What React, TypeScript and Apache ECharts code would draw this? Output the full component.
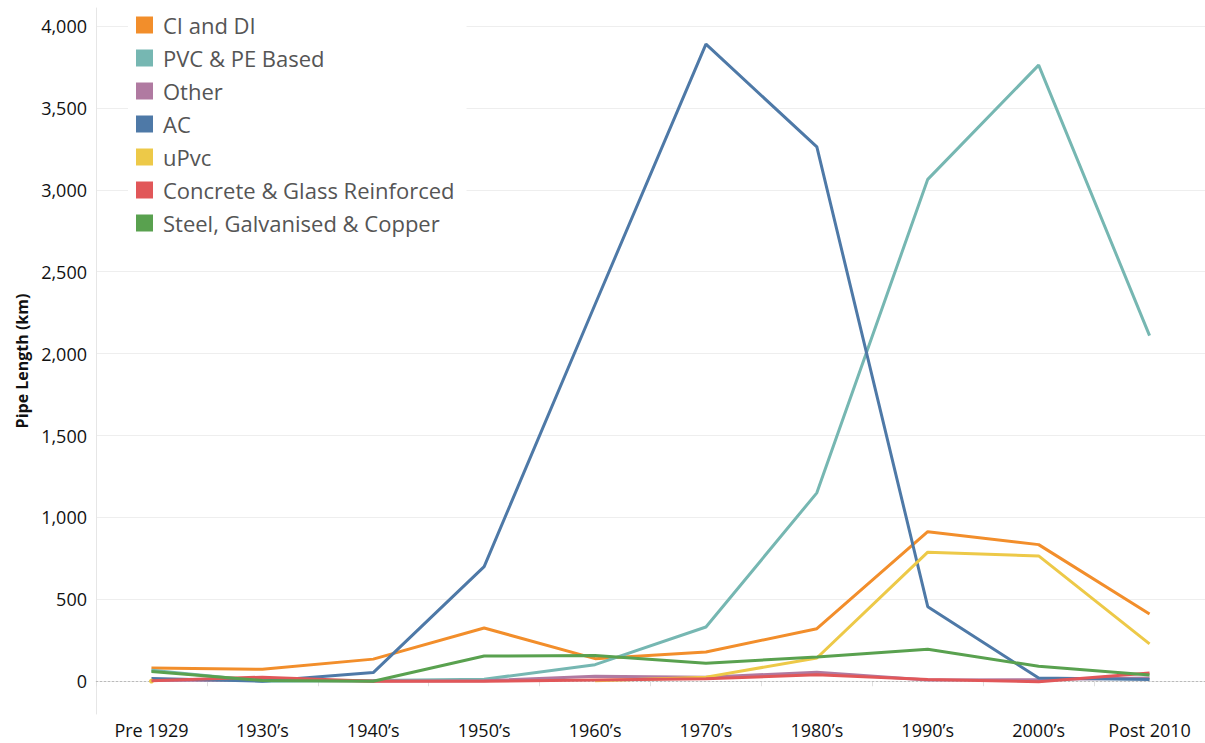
import React, { useEffect, useRef } from "react";
import * as echarts from "echarts";

const categories = ["Pre 1929", "1930\u2019s", "1940\u2019s", "1950\u2019s", "1960\u2019s", "1970\u2019s", "1980\u2019s", "1990\u2019s", "2000\u2019s", "Post 2010"];

const ciDi = [81, 73, 135, 325, 138, 178, 321, 913, 834, 410];
const pvcPe = [67, 0, 5, 12, 101, 331, 1150, 3064, 3761, 2110];
const other = [5, 8, 2, 3, 30, 25, 55, 8, 10, 20];
const ac = [16, 0, 53, 700, 2300, 3889, 3262, 455, 20, 10];
const upvc: (number | null)[] = [1, null, null, null, 3, 25, 142, 788, 765, 228];
const concrete = [3, 25, 0, 0, 8, 15, 40, 10, -3, 50];
const steel = [60, 5, 0, 154, 157, 110, 148, 195, 91, 38];

const yTicks = [0, 500, 1000, 1500, 2000, 2500, 3000, 3500, 4000];

const seriesDefs = [
  { name: "CI and DI", data: ciDi, color: "#f28e2b" },
  { name: "PVC & PE Based", data: pvcPe, color: "#76b7b2" },
  { name: "Other", data: other, color: "#b07aa1" },
  { name: "AC", data: ac, color: "#4e79a7" },
  { name: "uPvc", data: upvc, color: "#edc948" },
  { name: "Concrete & Glass Reinforced", data: concrete, color: "#e15759" },
  { name: "Steel, Galvanised & Copper", data: steel, color: "#59a14f" },
];

export default function App() {
  const ref = useRef<HTMLDivElement>(null);
  useEffect(() => {
    if (!ref.current) return;
    const chart = echarts.init(ref.current, null, { renderer: "svg" });
    const font = "'Open Sans', sans-serif";
    const series: any[] = seriesDefs.map((s, i) => ({
      name: s.name,
      type: "line",
      symbol: "none",
      lineStyle: { width: 3, color: s.color },
      itemStyle: { color: s.color },
      connectNulls: false,
      data: s.data.map((v, j) =>
        s.name === "uPvc" && j === 0
          ? { value: v, symbol: "circle", symbolSize: 5 }
          : v
      ),
      z: 2 + i,
    }));
    series[0].markLine = {
      silent: true,
      symbol: "none",
      label: { show: false },
      lineStyle: { color: "#bbbbbb", type: [2, 2], width: 1 },
      data: [{ yAxis: 0 }],
      z: 1,
    };
    chart.setOption({
      animation: false,
      grid: { left: 96, right: 0, top: 8, bottom: 29 },
      legend: {
        orient: "vertical",
        left: 128,
        top: 9,
        itemWidth: 17,
        itemHeight: 17,
        itemGap: 11,
        icon: "rect",
        backgroundColor: "#ffffff",
        padding: [5, 12, 5, 8],
        textStyle: { fontSize: 22, color: "#555555", fontFamily: font, padding: [0, 0, 0, 5] },
        data: seriesDefs.map((s) => s.name),
      },
      xAxis: {
        type: "category",
        data: categories,
        boundaryGap: true,
        axisLine: { show: true, lineStyle: { color: "#e6e6e6" } },
        axisTick: { show: true, length: 5, lineStyle: { color: "#e0e0e0" } },
        axisLabel: { color: "#111111", fontSize: 18, fontFamily: font, margin: 7 },
        splitLine: { show: false },
      },
      yAxis: {
        type: "value",
        min: -200,
        max: 4110,
        name: "Pipe Length (km)",
        nameLocation: "middle",
        nameGap: 66,
        nameTextStyle: { fontSize: 16, fontWeight: "bold", color: "#111111", fontFamily: font },
        axisLine: { show: true, lineStyle: { color: "#e6e6e6" } },
        axisTick: { show: false, customValues: yTicks },
        axisLabel: {
          customValues: yTicks,
          color: "#111111",
          fontSize: 18,
          fontFamily: font,
          margin: 9,
          formatter: (v: number) => v.toLocaleString("en-US"),
        },
        splitLine: { show: true, lineStyle: { color: "#eeeeee" } },
      },
      series,
    });
    return () => chart.dispose();
  }, []);
  return (
    <div
      ref={ref}
      style={{ position: "fixed", left: 0, top: 0, width: 1205, height: 743, background: "#fff" }}
    />
  );
}
